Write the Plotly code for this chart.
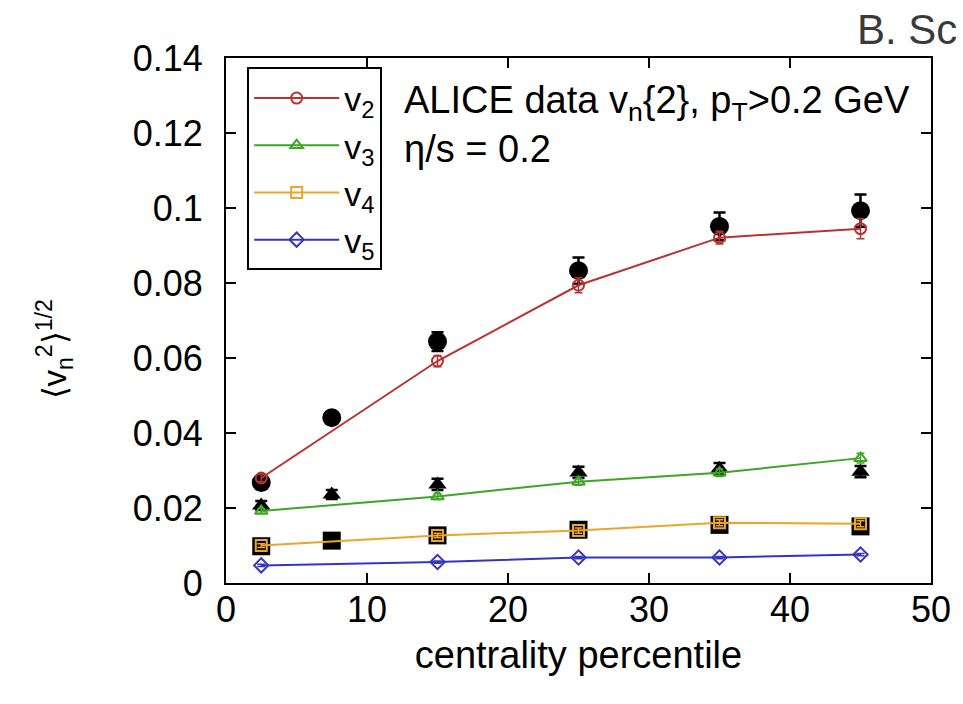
import plotly.graph_objects as go

# Centrality bins (percentile)
x_model = [2.5, 15, 25, 35, 45]
x_data = [2.5, 7.5, 15, 25, 35, 45]

# IP-Glasma + hydro, eta/s = 0.2
v2_model = [0.0280, 0.0592, 0.0794, 0.0921, 0.0945]
v2_model_err = [0.0010, 0.0015, 0.0020, 0.0017, 0.0027]
v3_model = [0.0192, 0.0231, 0.0270, 0.0294, 0.0333]
v3_model_err = [0.0006, 0.0008, 0.0009, 0.0010, 0.0013]
v4_model = [0.0100, 0.0127, 0.0140, 0.0161, 0.0158]
v4_model_err = [0.0005, 0.0006, 0.0007, 0.0008, 0.0008]
v5_model = [0.0047, 0.0056, 0.0068, 0.0068, 0.0076]
v5_model_err = [0.0003, 0.0003, 0.0003, 0.0003, 0.0003]

# ALICE v_n{2}, pT > 0.2 GeV
v2_data = [0.0268, 0.0441, 0.0644, 0.0833, 0.0951, 0.0993]
v2_data_err = [0.0010, 0.0012, 0.0025, 0.0035, 0.0037, 0.0043]
v3_data = [0.0207, 0.0236, 0.0263, 0.0295, 0.0305, 0.0297]
v3_data_err = [0.0012, 0.0012, 0.0015, 0.0015, 0.0015, 0.0015]
v4_data = [0.0098, 0.0113, 0.0127, 0.0142, 0.0155, 0.0151]
v4_data_err = [0.0007, 0.0007, 0.0008, 0.0008, 0.0009, 0.0009]

series_names = ["v<sub>2</sub>", "v<sub>3</sub>", "v<sub>4</sub>", "v<sub>5</sub>"]
colors = ["#b83232", "#3ea525", "#eba62a", "#3535c0"]
symbols = ["circle-open", "triangle-up-open", "square-open", "diamond-open"]

FONT = "Liberation Sans, Arial, sans-serif"

fig = go.Figure()

# ALICE data (black filled markers)
data_sets = [
    (v2_data, v2_data_err, "circle", 19),
    (v3_data, v3_data_err, "triangle-up", 16),
    (v4_data, v4_data_err, "square", 18),
]
for y, err, sym, size in data_sets:
    fig.add_trace(go.Scatter(
        x=x_data, y=y, mode="markers", showlegend=False,
        marker=dict(symbol=sym, size=size, color="black"),
        error_y=dict(type="data", array=err, color="black", thickness=2.5, width=6),
    ))

# Model curves
models = [
    (v2_model, v2_model_err),
    (v3_model, v3_model_err),
    (v4_model, v4_model_err),
    (v5_model, v5_model_err),
]
for i, (y, err) in enumerate(models):
    fig.add_trace(go.Scatter(
        x=x_model, y=y, mode="lines+markers", showlegend=False,
        line=dict(color=colors[i], width=2),
        marker=dict(symbol=symbols[i], size=11, color=colors[i],
                    line=dict(width=2, color=colors[i])),
        error_y=dict(type="data", array=err, color=colors[i], thickness=1.5, width=4),
    ))

# Legend keys
for i in range(4):
    fig.add_trace(go.Scatter(
        x=[None], y=[None], mode="lines+markers", name=series_names[i],
        line=dict(color=colors[i], width=2),
        marker=dict(symbol=symbols[i], size=11, color=colors[i],
                    line=dict(width=2, color=colors[i])),
    ))

axis_common = dict(
    showline=True, linecolor="black", linewidth=2, mirror="ticks",
    ticks="inside", ticklen=10, tickwidth=1.5, tickcolor="black",
    showgrid=False, zeroline=False,
    tickfont=dict(family=FONT, size=36, color="black"),
)

fig.update_xaxes(range=[0, 50], dtick=10, tick0=0,
                 title=dict(text="centrality percentile",
                            font=dict(family=FONT, size=38, color="black"),
                            standoff=12),
                 ticklabelstandoff=-6,
                 **axis_common)
fig.update_yaxes(range=[0, 0.14], dtick=0.02, tick0=0,
                 tickformat="~g", ticklabelstandoff=14, **axis_common)

fig.add_annotation(
    text="\u27e8v<sub>n</sub><sup>2</sup>\u27e9<sup>1/2</sup>",
    xref="paper", yref="paper", x=-0.28, y=0.445,
    textangle=-90, showarrow=False,
    font=dict(family=FONT, size=33, color="black"),
)
fig.add_annotation(
    text="ALICE data v<sub>n</sub>{2}, p<sub>T</sub>>0.2 GeV",
    xref="paper", yref="paper", x=0.25, y=0.915,
    xanchor="left", yanchor="middle", showarrow=False,
    font=dict(family=FONT, size=38, color="black"),
)
fig.add_annotation(
    text="\u03b7/s = 0.2",
    xref="paper", yref="paper", x=0.25, y=0.826,
    xanchor="left", yanchor="middle", showarrow=False,
    font=dict(family=FONT, size=38, color="black"),
)
fig.add_annotation(
    text="B. Sc",
    xref="paper", yref="paper", x=0.892, y=1.054,
    xanchor="left", yanchor="middle", showarrow=False,
    font=dict(family=FONT, size=42, color="#3a3a3a"),
)

fig.update_layout(
    width=963, height=704,
    margin=dict(l=226, r=29, t=58, b=121),
    paper_bgcolor="white", plot_bgcolor="white",
    font=dict(family=FONT, color="black"),
    legend=dict(
        x=0.03, y=0.982, xanchor="left", yanchor="top",
        bgcolor="white", bordercolor="black", borderwidth=2,
        font=dict(family=FONT, size=34, color="black"),
        itemwidth=85, tracegroupgap=0,
    ),
)

fig.write_html("out.html")
